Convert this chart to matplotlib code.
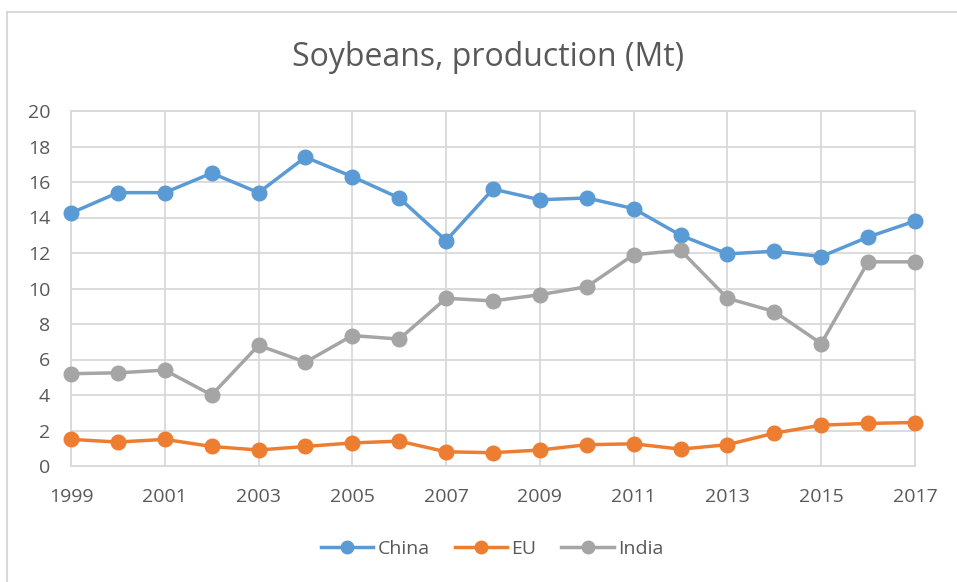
import matplotlib
matplotlib.use("Agg")
import matplotlib.pyplot as plt
from matplotlib.lines import Line2D

plt.rcParams["font.family"] = ["Open Sans", "DejaVu Sans"]

# Soybean production, million tonnes
anos = list(range(1999, 2018))
china = [14.25, 15.4, 15.4, 16.5, 15.4, 17.4, 16.3, 15.1, 12.7, 15.6,
         15.0, 15.1, 14.5, 13.0, 11.95, 12.1, 11.8, 12.9, 13.8]
eu = [1.5, 1.35, 1.5, 1.1, 0.9, 1.1, 1.3, 1.4, 0.8, 0.75,
      0.9, 1.2, 1.25, 0.95, 1.2, 1.85, 2.3, 2.4, 2.45]
india = [5.2, 5.25, 5.4, 4.0, 6.8, 5.85, 7.35, 7.15, 9.45, 9.3,
         9.65, 10.1, 11.9, 12.15, 9.45, 8.7, 6.9, 11.5, 11.5]
series = ["China", "EU", "India"]
cores = ["#5B9BD5", "#ED7D31", "#A5A5A5"]
texto = "#595959"
grade = "#D9D9D9"

fig = plt.figure(figsize=(9.57, 5.82), dpi=100)
ax = fig.add_axes([71 / 957, 1 - 466 / 582, 844 / 957, 355 / 582])

for nome, valores, cor in zip(series, [china, eu, india], cores):
    ax.plot(anos, valores, color=cor, linewidth=2.5, marker="o",
            markersize=10.5, label=nome, zorder=3, clip_on=False)

ax.set_xlim(1999, 2017)
ax.set_ylim(0, 20)
ax.set_xticks(range(1999, 2018, 2))
ax.set_yticks(range(0, 21, 2))
ax.grid(True, color=grade, linewidth=1.3)
for lado in ax.spines.values():
    lado.set_color(grade)
    lado.set_linewidth(1.3)
ax.tick_params(length=0, labelsize=14, colors=texto)
ax.tick_params(axis="x", pad=16)
ax.tick_params(axis="y", pad=15)

fig.text(488 / 957, 1 - 57 / 582, "Soybeans, production (Mt)",
         ha="center", va="center", fontsize=23, color=texto)

handles = [Line2D([0], [0], color=c, linewidth=2.5, marker="o", markersize=9)
           for c in cores]
fig.legend(handles, series, loc="center", bbox_to_anchor=(492 / 957, 1 - 549 / 582),
           ncol=3, frameon=False, fontsize=14, labelcolor=texto,
           handlelength=2.7, columnspacing=1.3, handletextpad=0.2)

# chart frame (top and left edges)
fig.add_artist(Line2D([7 / 957, 1], [1 - 12 / 582, 1 - 12 / 582],
                      transform=fig.transFigure, color=grade, linewidth=1.5))
fig.add_artist(Line2D([7 / 957, 7 / 957], [0, 1 - 12 / 582],
                      transform=fig.transFigure, color=grade, linewidth=1.5))

fig.savefig("out.png", dpi=100, facecolor="white")
plt.close(fig)
